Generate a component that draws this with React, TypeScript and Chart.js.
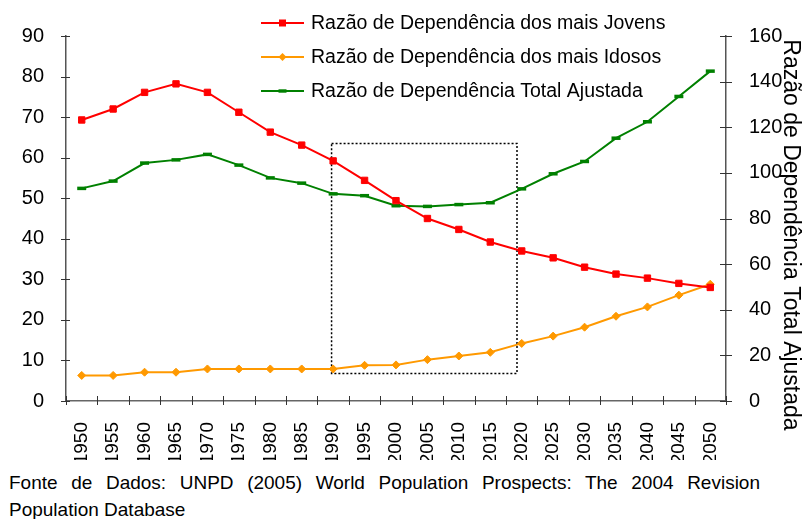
import React, { useEffect, useRef } from 'react';
import { Chart, registerables } from 'chart.js';

Chart.register(...registerables);

const years = ['1950', '1955', '1960', '1965', '1970', '1975', '1980', '1985', '1990', '1995', '2000', '2005', '2010', '2015', '2020', '2025', '2030', '2035', '2040', '2045', '2050'];
const jovens = [69.3, 72.0, 76.1, 78.2, 76.1, 71.2, 66.3, 63.1, 59.2, 54.4, 49.4, 45.0, 42.3, 39.2, 37.0, 35.3, 33.0, 31.3, 30.3, 29.0, 28.0];
const idosos = [6.3, 6.3, 7.1, 7.1, 7.9, 7.9, 7.9, 7.9, 7.9, 8.8, 8.9, 10.2, 11.1, 12.0, 14.2, 16.0, 18.2, 20.9, 23.2, 26.1, 28.8];
const totalAjustada = [93.2, 96.4, 104.3, 105.7, 108.1, 103.4, 97.8, 95.5, 90.8, 90.0, 85.6, 85.3, 86.1, 86.9, 93.0, 99.6, 105.0, 115.2, 122.4, 133.5, 144.6];

const seriesNames = [
  'Razão de Dependência dos mais Jovens',
  'Razão de Dependência dos mais Idosos',
  'Razão de Dependência Total Ajustada',
];
const rightAxisTitle = 'Razão de Dependência Total Ajustada';
const footerLine1 = 'Fonte de Dados: UNPD (2005) World Population Prospects: The 2004 Revision';
const footerLine2 = 'Population Database';

// highlight box (in data units: category index on x, left-axis value on y)
const boxX = [7.95, 13.85];
const boxY = [6.8, 63.5];

const RED = '#ff0000';
const ORANGE = '#ff9900';
const GREEN = '#008000';
const FONT = '"Liberation Sans", Arial, sans-serif';
const AXIS = '#555555';

function drawMarker(ctx: CanvasRenderingContext2D, style: string, x: number, y: number, color: string) {
  ctx.save();
  ctx.fillStyle = color;
  ctx.strokeStyle = color;
  if (style === 'rect') {
    ctx.fillRect(x - 3.5, y - 3.5, 7, 7);
  } else if (style === 'rectRot') {
    ctx.beginPath();
    ctx.moveTo(x, y - 4);
    ctx.lineTo(x + 4, y);
    ctx.lineTo(x, y + 4);
    ctx.lineTo(x - 4, y);
    ctx.closePath();
    ctx.fill();
  } else {
    ctx.fillRect(x - 4, y - 1.7, 8, 3.4);
  }
  ctx.restore();
}

const decorPlugin = {
  id: 'decor',
  beforeDatasetsDraw(chart: any) {
    const { ctx } = chart;
    const xs = chart.scales.x;
    const ys = chart.scales.y;
    const x0 = xs.getPixelForValue(boxX[0]);
    const x1 = xs.getPixelForValue(boxX[1]);
    const y0 = ys.getPixelForValue(boxY[1]);
    const y1 = ys.getPixelForValue(boxY[0]);
    ctx.save();
    ctx.setLineDash([2, 2]);
    ctx.lineWidth = 1.5;
    ctx.strokeStyle = '#000';
    ctx.strokeRect(x0, y0, x1 - x0, y1 - y0);
    ctx.restore();
  },
  afterDraw(chart: any) {
    const { ctx, chartArea } = chart;
    const xs = chart.scales.x;
    const ys = chart.scales.y;
    const ys2 = chart.scales.y2;
    ctx.save();
    ctx.strokeStyle = '#333';
    ctx.lineWidth = 1;
    // y ticks (crossing)
    ys.ticks.forEach((_t: any, i: number) => {
      const py = Math.round(ys.getPixelForTick(i)) + 0.5;
      ctx.beginPath();
      ctx.moveTo(chartArea.left - 5, py);
      ctx.lineTo(chartArea.left + 4, py);
      ctx.stroke();
    });
    ys2.ticks.forEach((_t: any, i: number) => {
      const py = Math.round(ys2.getPixelForTick(i)) + 0.5;
      ctx.beginPath();
      ctx.moveTo(chartArea.right - 6, py);
      ctx.lineTo(chartArea.right + 6, py);
      ctx.stroke();
    });
    // x ticks at category boundaries
    const n = years.length;
    for (let i = 0; i <= n; i++) {
      const px = Math.round(xs.getPixelForValue(i - 0.5)) + 0.5;
      ctx.beginPath();
      ctx.moveTo(px, chartArea.bottom - 5);
      ctx.lineTo(px, chartArea.bottom + 4);
      ctx.stroke();
    }
    ctx.restore();

    // legend
    const rows = [23, 57, 91];
    const styles = ['rect', 'rectRot', 'line'];
    chart.data.datasets.forEach((ds: any, i: number) => {
      const ry = rows[i];
      ctx.save();
      ctx.strokeStyle = ds.borderColor;
      ctx.lineWidth = 2;
      ctx.beginPath();
      ctx.moveTo(261, ry);
      ctx.lineTo(304, ry);
      ctx.stroke();
      drawMarker(ctx, styles[i], 282.5, ry, ds.borderColor);
      ctx.fillStyle = '#000';
      ctx.font = `19.5px ${FONT}`;
      ctx.textBaseline = 'middle';
      ctx.textAlign = 'left';
      ctx.fillText(ds.label, 311, ry + 1);
      ctx.restore();
    });

    // right axis title
    ctx.save();
    ctx.translate(790, 235);
    ctx.rotate(Math.PI / 2);
    ctx.fillStyle = '#000';
    ctx.font = `23px ${FONT}`;
    ctx.textAlign = 'center';
    ctx.textBaseline = 'middle';
    ctx.fillText(rightAxisTitle, 0, 0);
    ctx.restore();
  },
};

export default function App() {
  const ref = useRef<HTMLCanvasElement | null>(null);
  useEffect(() => {
    if (!ref.current) return;
    const chart = new Chart(ref.current, {
      type: 'line',
      data: {
        labels: years,
        datasets: [
          {
            label: seriesNames[0],
            data: jovens,
            yAxisID: 'y',
            borderColor: RED,
            backgroundColor: RED,
            borderWidth: 2,
            pointStyle: 'rect',
            pointRadius: 4.5,
            pointBorderWidth: 1,
            tension: 0,
          },
          {
            label: seriesNames[1],
            data: idosos,
            yAxisID: 'y',
            borderColor: ORANGE,
            backgroundColor: ORANGE,
            borderWidth: 2,
            pointStyle: 'rectRot',
            pointRadius: 4,
            pointBorderWidth: 1,
            tension: 0,
          },
          {
            label: seriesNames[2],
            data: totalAjustada,
            yAxisID: 'y2',
            borderColor: GREEN,
            backgroundColor: GREEN,
            borderWidth: 2,
            pointStyle: 'line',
            pointRadius: 4.5,
            pointBorderWidth: 3.5,
            tension: 0,
          },
        ],
      },
      options: {
        responsive: false,
        maintainAspectRatio: false,
        animation: false,
        events: [],
        layout: { padding: { top: 36, left: 0, right: 0, bottom: 0 } },
        plugins: { legend: { display: false }, tooltip: { enabled: false } },
        scales: {
          x: {
            type: 'category',
            offset: true,
            grid: { display: false, offset: true },
            border: { display: true, color: '#666', width: 1.5 },
            ticks: {
              minRotation: 90,
              maxRotation: 90,
              autoSkip: false,
              padding: 13,
              color: '#000',
              font: { family: FONT, size: 19 },
            },
            afterFit: (s: any) => { s.height = 59; },
          },
          y: {
            position: 'left',
            min: 0,
            max: 90,
            grid: { display: false },
            border: { display: true, color: AXIS, width: 1.5 },
            ticks: { stepSize: 10, padding: 14, color: '#000', font: { family: FONT, size: 20 } },
            afterFit: (s: any) => { s.width = 66; },
          },
          y2: {
            position: 'right',
            min: 0,
            max: 160,
            grid: { display: false },
            border: { display: true, color: AXIS, width: 1.5 },
            ticks: { stepSize: 20, padding: 15, color: '#000', font: { family: FONT, size: 20 } },
            afterFit: (s: any) => { s.width = 76; },
          },
        },
      },
      plugins: [decorPlugin],
    } as any);
    return () => chart.destroy();
  }, []);

  return (
    <div style={{ position: 'absolute', left: 0, top: 0, width: 802, height: 519, background: '#fff' }}>
      <canvas ref={ref} width={802} height={460} style={{ width: 802, height: 460, display: 'block' }} />
      <div
        style={{
          position: 'absolute',
          left: 9,
          top: 469,
          width: 751,
          fontFamily: FONT,
          fontSize: 19,
          lineHeight: '27px',
          color: '#000',
        }}
      >
        <div style={{ textAlign: 'justify', textAlignLast: 'justify' as any }}>{footerLine1}</div>
        <div>{footerLine2}</div>
      </div>
    </div>
  );
}
